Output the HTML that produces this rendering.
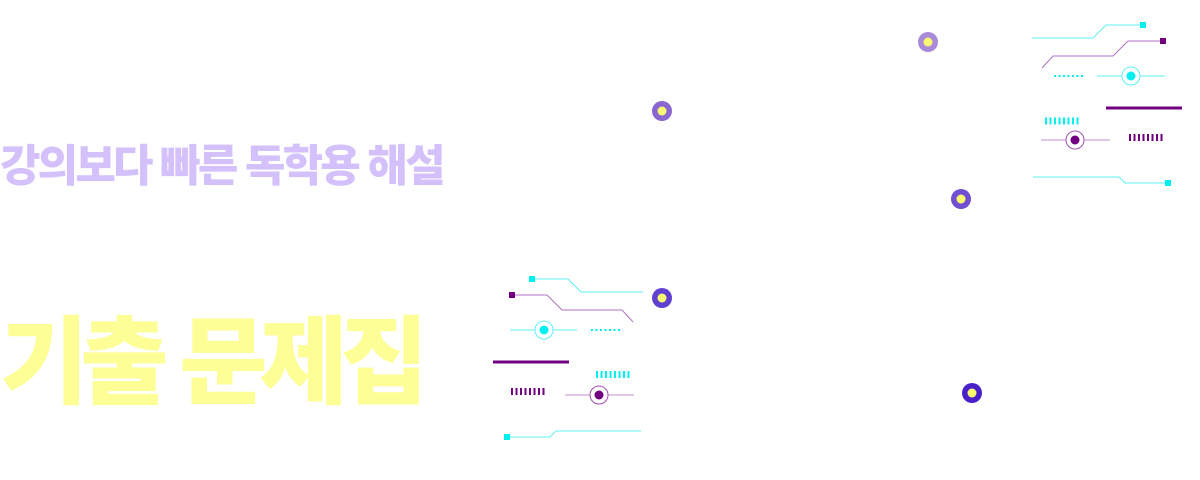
<!DOCTYPE html>
<html><head><meta charset="utf-8"><style>
html,body{margin:0;padding:0;background:#fff;width:1200px;height:480px;overflow:hidden;position:relative}
.t{position:absolute;left:0;font-family:"Liberation Sans","Noto Sans CJK KR",sans-serif;font-weight:900;white-space:nowrap}
.sub{top:130px;font-size:44px;color:#d4c1fb;letter-spacing:-2.8px}
.main{top:285px;font-size:96px;color:#fefe96;letter-spacing:-8px}
svg{position:absolute;left:0;top:0}
</style></head><body>
<div class="t sub">강의보다 빠른 독학용 해설</div>
<div class="t main">기출 문제집</div>
<svg width="1200" height="480" viewBox="0 0 1200 480">
<g fill="none" stroke-width="1">
<polyline points="1032,38 1093,38 1106,25 1142,25" stroke="#5ff0f5"/>
<polyline points="1042,68 1053,56 1113,56 1128,41 1163,41" stroke="#b070c0"/>
<line x1="1054" y1="76" x2="1084" y2="76" stroke="#00f0f0" stroke-width="2" stroke-dasharray="2,2.5"/>
<line x1="1097" y1="76" x2="1165" y2="76" stroke="#5ff0f5"/>
<circle cx="1131" cy="76" r="9" stroke="#5ff0f5" fill="#fff"/>
<line x1="1106" y1="108" x2="1182" y2="108" stroke="#700080" stroke-width="3"/>
<line x1="1045" y1="121" x2="1079" y2="121" stroke="#00f0f0" stroke-width="7" stroke-dasharray="2,2.5"/>
<line x1="1041" y1="140" x2="1110" y2="140" stroke="#c090cc"/>
<circle cx="1075" cy="140" r="9" stroke="#a050b0" fill="#fff"/>
<line x1="1129" y1="137.5" x2="1163" y2="137.5" stroke="#700080" stroke-width="7" stroke-dasharray="2,2.5"/>
<polyline points="1033,177 1119,177 1125,183 1168,183" stroke="#5ff0f5"/>

<polyline points="532,279 568,279 581,292 643,292" stroke="#5ff0f5"/>
<polyline points="512,295 547,295 562,310 622,310 633,322" stroke="#b070c0"/>
<line x1="510" y1="330" x2="577" y2="330" stroke="#5ff0f5"/>
<circle cx="544" cy="330" r="9" stroke="#5ff0f5" fill="#fff"/>
<line x1="591" y1="330" x2="621" y2="330" stroke="#00f0f0" stroke-width="2" stroke-dasharray="2,2.5"/>
<line x1="493" y1="362" x2="569" y2="362" stroke="#700080" stroke-width="3"/>
<line x1="596" y1="374.5" x2="630" y2="374.5" stroke="#00f0f0" stroke-width="7" stroke-dasharray="2,2.5"/>
<line x1="511" y1="391.5" x2="545" y2="391.5" stroke="#700080" stroke-width="7" stroke-dasharray="2,2.5"/>
<line x1="565" y1="395" x2="634" y2="395" stroke="#c090cc"/>
<circle cx="599" cy="395" r="9" stroke="#a050b0" fill="#fff"/>
<polyline points="507,437 550,437 556,431 641,431" stroke="#5ff0f5"/>
</g>
<g stroke="none">
<rect x="1140" y="22" width="6" height="6" fill="#00f0f0"/>
<rect x="1160" y="38" width="6" height="6" fill="#700080"/>
<circle cx="1131" cy="76" r="4.5" fill="#00f0f0"/>
<circle cx="1075" cy="140" r="4.5" fill="#700080"/>
<rect x="1165" y="180" width="6" height="6" fill="#00f0f0"/>
<rect x="529" y="276" width="6" height="6" fill="#00f0f0"/>
<rect x="509" y="292" width="6" height="6" fill="#700080"/>
<circle cx="544" cy="330" r="4.5" fill="#00f0f0"/>
<circle cx="599" cy="395" r="4.5" fill="#700080"/>
<rect x="504" y="434" width="6" height="6" fill="#00f0f0"/>

<circle cx="928" cy="42" r="10" fill="#a88ad8"/><circle cx="928" cy="42" r="4.5" fill="#fafa70"/>
<circle cx="662" cy="111" r="10" fill="#8a66d0"/><circle cx="662" cy="111" r="4.5" fill="#fafa70"/>
<circle cx="961" cy="199" r="10" fill="#7050d0"/><circle cx="961" cy="199" r="4.5" fill="#fafa70"/>
<circle cx="662" cy="298" r="10" fill="#6040d0"/><circle cx="662" cy="298" r="4.5" fill="#fafa70"/>
<circle cx="972" cy="393" r="10" fill="#4a20c8"/><circle cx="972" cy="393" r="4.5" fill="#fafa70"/>
</g>
</svg>
</body></html>
